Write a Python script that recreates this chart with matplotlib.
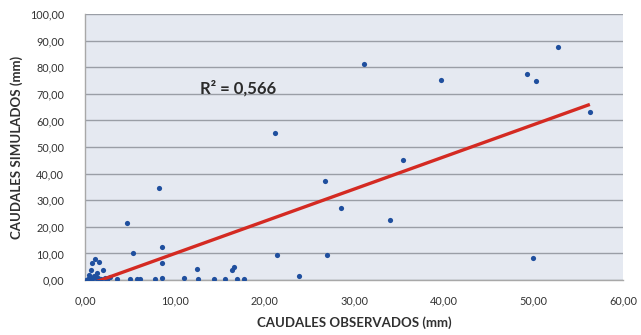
import matplotlib
matplotlib.use("Agg")
import matplotlib.pyplot as plt
import numpy as np

# Observed (x) and simulated (y) flows, mm
obs = [0.1, 0.3, 0.5, 0.6, 0.8, 1.0, 1.2, 1.5, 1.8, 2.2, 2.5, 0.4, 0.7, 0.8, 1.1, 1.6,
       2.0, 1.3, 2.8, 3.6, 5.0, 5.8, 6.1, 7.8, 8.6, 11.0, 12.6, 12.5, 14.4, 15.6, 16.6,
       16.4, 16.9, 17.7, 4.7, 5.3, 8.6, 8.6, 8.2, 21.2, 21.4, 23.9, 26.8, 27.0, 28.5,
       31.1, 34.0, 35.5, 39.7, 49.3, 50.3, 50.0, 52.8, 56.3]
sim = [0.2, 0.5, 0.3, 1.0, 0.4, 1.5, 0.6, 0.9, 0.3, 0.8, 0.2, 2.0, 3.8, 6.4, 8.0, 6.8,
       3.8, 2.5, 1.0, 0.3, 0.5, 0.3, 0.4, 0.3, 0.8, 0.8, 0.4, 4.1, 0.3, 0.3, 4.9,
       3.6, 0.5, 0.5, 21.4, 10.1, 12.4, 6.4, 34.6, 55.3, 9.4, 1.5, 37.2, 9.4, 27.1,
       81.2, 22.6, 45.1, 75.2, 77.4, 74.8, 8.2, 87.6, 63.2]

# Linear trend line
trend_slope = 1.211
trend_intercept = -2.15
r2_label = "R² = 0,566"

x_ticks = [0, 10, 20, 30, 40, 50, 60]
y_ticks = [0, 10, 20, 30, 40, 50, 60, 70, 80, 90, 100]

def fmt(v):
    return f"{v:.2f}".replace(".", ",")

plt.rcParams['font.family'] = ['Lato', 'DejaVu Sans']

fig = plt.figure(figsize=(6.41, 3.35), dpi=100)
fig.patch.set_facecolor("white")
ax = fig.add_axes([0.1326, 0.164, 0.972 - 0.1326, 0.958 - 0.164])
ax.set_facecolor("#e5e9f1")

ax.set_xlim(0, 60)
ax.set_ylim(0, 100)
ax.set_xticks(x_ticks)
ax.set_yticks(y_ticks)
ax.set_xticklabels([fmt(v) for v in x_ticks], fontsize=7.8, color="#333333")
ax.set_yticklabels([fmt(v) for v in y_ticks], fontsize=7.8, color="#333333")
ax.tick_params(axis="y", length=0, pad=15)
ax.tick_params(axis="x", length=0, pad=11)
ax.yaxis.grid(True, color="#9a9ea6", linewidth=1.0)
ax.set_axisbelow(True)
for s in ["top", "right"]:
    ax.spines[s].set_visible(False)
for s in ["left", "bottom"]:
    ax.spines[s].set_color("#a8a8a8")
    ax.spines[s].set_linewidth(1.0)

ax.scatter(obs, sim, s=14, color="#1f4f9e", zorder=3, linewidths=0)

xs = np.array([min(obs), max(obs)])
ax.plot(xs, trend_slope * xs + trend_intercept, color="#d42a22", linewidth=2.4, zorder=4,
        solid_capstyle="butt")

ax.text(12.8, 72.2, r2_label, fontsize=12, fontweight="bold", color="#2a2a2a",
        va="center", ha="left")

ax.set_xlabel("CAUDALES OBSERVADOS (mm)", fontsize=9.5, fontweight="bold", color="#303030",
              labelpad=7)
ax.set_ylabel("CAUDALES SIMULADOS (mm)", fontsize=9.5, fontweight="bold", color="#303030",
              labelpad=5)

fig.savefig("out.png", dpi=100)
